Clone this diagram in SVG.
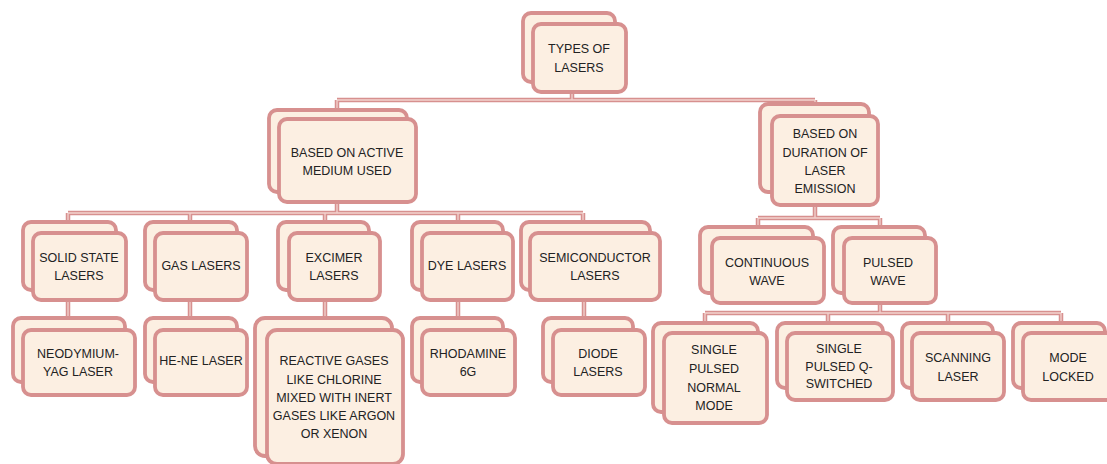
<svg xmlns="http://www.w3.org/2000/svg" width="1107" height="464" viewBox="0 0 1107 464">
<style>
.card{fill:#fcefe2;stroke:#d7908f;stroke-width:3.8}
.c1{fill:none;stroke:#d7908f;stroke-width:4.5}
.c2{fill:none;stroke:#f3d3cf;stroke-width:1.3}
text{font-family:"Liberation Sans",Arial,sans-serif;font-size:12.5px;fill:#222222;text-anchor:middle}
</style>
<rect width="1107" height="464" fill="#ffffff"/>
<defs>
<path id="conn" d="M572,92V100M337,100H815M337,100V110M815,100V104M337,202V213M68,213H583M68,213V222M190,213V222M325,213V222M458,213V222M583,213V222M815,205V218M758,218H880M758,218V227M880,218V227M68,300V318M190,300V318M325,300V318M458,300V318M584,300V318M880,303V313M705,313H1061M705,313V323M828,313V323M948,313V323M1061,313V323"/>
</defs>
<g id="connectors">
<use href="#conn" class="c1"/>
<use href="#conn" class="c2"/>
</g>
<g id="types">
<rect class="card" x="523" y="13" width="92" height="69" rx="8"/>
<rect class="card" x="533" y="24" width="93" height="68" rx="8"/>
<text x="579" y="53">TYPES OF</text><text x="579" y="72">LASERS</text>
</g>
<g id="active-medium">
<rect class="card" x="269" y="110" width="138" height="82" rx="8"/>
<rect class="card" x="279" y="119" width="137" height="83" rx="8"/>
<text x="347" y="157">BASED ON ACTIVE</text><text x="347" y="175">MEDIUM USED</text>
</g>
<g id="duration">
<rect class="card" x="760" y="104" width="109" height="88" rx="8"/>
<rect class="card" x="772" y="116" width="106" height="89" rx="8"/>
<text x="825" y="138">BASED ON</text><text x="825" y="157">DURATION OF</text><text x="825" y="175">LASER</text><text x="825" y="193">EMISSION</text>
</g>
<g id="solid-state">
<rect class="card" x="23" y="222" width="93" height="68" rx="8"/>
<rect class="card" x="33" y="233" width="93" height="67" rx="8"/>
<text x="79" y="262">SOLID STATE</text><text x="79" y="280">LASERS</text>
</g>
<g id="gas">
<rect class="card" x="145" y="222" width="92" height="68" rx="8"/>
<rect class="card" x="155" y="233" width="92" height="67" rx="8"/>
<text x="201" y="270">GAS LASERS</text>
</g>
<g id="excimer">
<rect class="card" x="278" y="222" width="91" height="68" rx="8"/>
<rect class="card" x="289" y="233" width="91" height="67" rx="8"/>
<text x="334" y="262">EXCIMER</text><text x="334" y="280">LASERS</text>
</g>
<g id="dye">
<rect class="card" x="412" y="222" width="91" height="68" rx="8"/>
<rect class="card" x="422" y="233" width="91" height="67" rx="8"/>
<text x="467" y="270">DYE LASERS</text>
</g>
<g id="semiconductor">
<rect class="card" x="521" y="222" width="129" height="68" rx="8"/>
<rect class="card" x="530" y="233" width="130" height="67" rx="8"/>
<text x="595" y="262">SEMICONDUCTOR</text><text x="595" y="280">LASERS</text>
</g>
<g id="continuous">
<rect class="card" x="700" y="227" width="113" height="66" rx="8"/>
<rect class="card" x="712" y="238" width="112" height="65" rx="8"/>
<text x="767" y="267">CONTINUOUS</text><text x="767" y="285">WAVE</text>
</g>
<g id="pulsed">
<rect class="card" x="833" y="227" width="92" height="66" rx="8"/>
<rect class="card" x="844" y="238" width="92" height="65" rx="8"/>
<text x="888" y="267">PULSED</text><text x="888" y="285">WAVE</text>
</g>
<g id="neodymium">
<rect class="card" x="13" y="318" width="112" height="64" rx="8"/>
<rect class="card" x="23" y="330" width="112" height="65" rx="8"/>
<text x="78" y="358">NEODYMIUM-</text><text x="78" y="376">YAG LASER</text>
</g>
<g id="he-ne">
<rect class="card" x="145" y="318" width="92" height="64" rx="8"/>
<rect class="card" x="155" y="330" width="92" height="65" rx="8"/>
<text x="201" y="365">HE-NE LASER</text>
</g>
<g id="reactive">
<rect class="card" x="255" y="318" width="137" height="138" rx="10"/>
<rect class="card" x="267" y="330" width="136" height="134" rx="10"/>
<text x="334" y="365">REACTIVE GASES</text><text x="334" y="384">LIKE CHLORINE</text><text x="334" y="402">MIXED WITH INERT</text><text x="334" y="420">GASES LIKE ARGON</text><text x="334" y="438">OR XENON</text>
</g>
<g id="rhodamine">
<rect class="card" x="412" y="318" width="91" height="64" rx="8"/>
<rect class="card" x="422" y="330" width="93" height="65" rx="8"/>
<text x="468" y="358">RHODAMINE</text><text x="468" y="376">6G</text>
</g>
<g id="diode">
<rect class="card" x="543" y="318" width="90" height="64" rx="8"/>
<rect class="card" x="553" y="330" width="92" height="65" rx="8"/>
<text x="598" y="358">DIODE</text><text x="598" y="376">LASERS</text>
</g>
<g id="single-normal">
<rect class="card" x="653" y="323" width="105" height="89" rx="8"/>
<rect class="card" x="664" y="333" width="103" height="90" rx="8"/>
<text x="714" y="354">SINGLE</text><text x="714" y="373">PULSED</text><text x="714" y="392">NORMAL</text><text x="714" y="410">MODE</text>
</g>
<g id="single-q">
<rect class="card" x="777" y="323" width="106" height="65" rx="8"/>
<rect class="card" x="787" y="333" width="106" height="67" rx="8"/>
<text x="839" y="353">SINGLE</text><text x="839" y="371">PULSED Q-</text><text x="839" y="388">SWITCHED</text>
</g>
<g id="scanning">
<rect class="card" x="902" y="323" width="91" height="65" rx="8"/>
<rect class="card" x="912" y="333" width="92" height="67" rx="8"/>
<text x="958" y="362">SCANNING</text><text x="958" y="381">LASER</text>
</g>
<g id="mode-locked">
<rect class="card" x="1013" y="323" width="92" height="65" rx="8"/>
<rect class="card" x="1023" y="333" width="92" height="67" rx="8"/>
<text x="1068" y="362">MODE</text><text x="1068" y="381">LOCKED</text>
</g>
</svg>
